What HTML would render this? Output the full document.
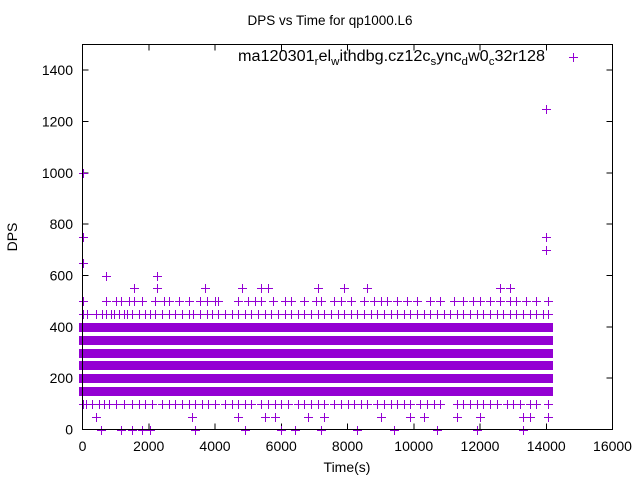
<!DOCTYPE html>
<html><head><meta charset="utf-8"><style>
body{margin:0;background:#fff;}
svg{display:block;font-family:"Liberation Sans",sans-serif;}
</style></head><body>
<svg id="chart" width="640" height="480" viewBox="0 0 640 480" xmlns="http://www.w3.org/2000/svg">
<rect width="640" height="480" fill="#fff"/>
<text x="330" y="25" font-size="13.5" text-anchor="middle">DPS vs Time for qp1000.L6</text>
<text x="17" y="237" font-size="14" text-anchor="middle" transform="rotate(-90 17 237)">DPS</text>
<text x="347" y="472" font-size="14" text-anchor="middle">Time(s)</text>
<g id="axes" shape-rendering="crispEdges"></g>
<g id="marks" shape-rendering="crispEdges"></g>
<rect x="82.5" y="44.5" width="530" height="385" fill="none" stroke="#000" stroke-width="1" shape-rendering="crispEdges"/>
<text x="238" y="61" font-size="15.5" textLength="307" lengthAdjust="spacingAndGlyphs">ma120301<tspan font-size="11" dy="4">r</tspan><tspan dy="-4">el</tspan><tspan font-size="11" dy="4">w</tspan><tspan dy="-4">ithdbg.cz12c</tspan><tspan font-size="11" dy="4">s</tspan><tspan dy="-4">ync</tspan><tspan font-size="11" dy="4">d</tspan><tspan dy="-4">w0</tspan><tspan font-size="11" dy="4">c</tspan><tspan dy="-4">32r128</tspan></text>
</svg>
<script>
const xTicks=[0,2000,4000,6000,8000,10000,12000,14000,16000];
const yTicks=[0,200,400,600,800,1000,1200,1400];
const bandLevels=[150,200,250,300,350,400];
const bandStart=[0,0,0,0,0,0];
const bandEnd=[14050,14050,14050,14050,14050,14050];
const t450=[0,150,400,600,700,850,950,1100,1250,1350,1500,1700,1900,2050,2200,2400,2600,2800,3000,3200,3350,3550,3750,3900,4100,4300,4500,4700,4900,5100,5300,5500,5700,5900,6100,6300,6500,6700,6900,7100,7300,7500,7700,7900,8100,8300,8500,8700,8900,9100,9300,9500,9700,9900,10100,10300,10500,10700,10900,11100,11300,11500,11700,11900,12100,12300,12500,12700,12900,13100,13300,13500,13700,13900,14050];
const t500=[0,700,1000,1150,1400,1550,1800,2200,2450,2600,2900,3200,3550,3750,4000,4100,4700,5000,5200,5400,5750,6100,6300,6700,7050,7200,7600,7800,8100,8500,8800,9000,9200,9500,9800,10100,10500,10800,11200,11500,11800,12000,12300,12600,12900,13100,13400,13700,14050];
const t100=[0,100,300,500,650,800,1000,1250,1500,1700,1900,2100,2400,2600,2800,3000,3200,3400,3600,3800,4000,4300,4500,4700,4900,5100,5400,5600,5800,6000,6200,6500,6700,6900,7100,7300,7600,7800,8000,8200,8400,8600,8900,9100,9300,9500,9700,9900,10200,10400,10600,10800,11300,11500,11700,11900,12100,12300,12500,12800,13000,13200,13500,13700,14050];
const t550=[1540,2250,3700,4800,5400,5600,7100,7900,8600,12600,12900];
const t600=[700,2260];
const t50=[400,3300,4700,5500,5800,6800,7300,9000,9900,10300,11300,12000,13300,13500,14050];
const t0=[550,1150,1500,1800,2050,3400,4900,6000,6400,7200,8300,9400,10700,11900,13300];
const extraT=[0,0,0,14000,14000,14000,14800];
const extraV=[1000,750,650,1250,750,700,1450];

const X=t=>82.5+t*530/16000;
const Y=v=>429.5-v*385/1500;
const NS="http://www.w3.org/2000/svg";
const axes=document.getElementById('axes'),marks=document.getElementById('marks');
function mk(tag,attrs,parent){const e=document.createElementNS(NS,tag);for(const k in attrs)e.setAttribute(k,attrs[k]);parent.appendChild(e);return e;}
xTicks.forEach(t=>{
 const l=mk('path',{d:`M${X(t)} 429.5v-6M${X(t)} 44.5v6`,stroke:'#000'},axes);
 
 
 const tx=mk('text',{x:X(t),y:451,'font-size':14,'text-anchor':'middle'},axes);tx.textContent=t;
 
 
});
yTicks.forEach(v=>{
 const l=mk('path',{d:`M82.5 ${Y(v)}h6M612.5 ${Y(v)}h-6`,stroke:'#000'},axes);
 
 
 const tx=mk('text',{x:73,y:Y(v)+5,'font-size':14,'text-anchor':'end'},axes);tx.textContent=v;
 
 
});
const C='#9400d3';
bandLevels.forEach((v,i)=>{
 const r=mk('rect',{x:Math.round(X(bandStart[i]))-4,y:Math.round(Y(v))-4,width:Math.round(X(bandEnd[i])-X(bandStart[i]))+9,height:9,fill:C},marks);
 
 
});
function plus(t,v){
 const cx=Math.round(X(t))+0.5,cy=Math.round(Y(v))+0.5;
 const p=mk('path',{d:`M${cx-4.5} ${cy}h9M${cx} ${cy-4.5}v9`,stroke:C,'stroke-width':1.3},marks);
 
 
}
[[t450,450],[t500,500],[t100,100],[t550,550],[t600,600],[t50,50],[t0,0]].forEach(([arr,v])=>arr.forEach(t=>plus(t,v)));
extraT.forEach((t,i)=>plus(t,extraV[i]));
</script>
</body></html>
